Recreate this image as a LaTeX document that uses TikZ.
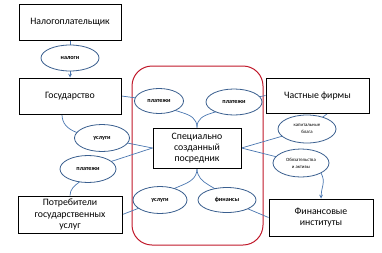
\documentclass[tikz,border=0pt]{standalone}
\usepackage{fontspec}
\setmainfont{Carlito}
\usetikzlibrary{shapes.geometric,backgrounds}
\definecolor{lnk}{HTML}{4A76B0}
\definecolor{ell}{HTML}{3A5F8F}
\definecolor{redc}{HTML}{C0182A}
\begin{document}
\begin{tikzpicture}[x=1pt,y=-1pt,
  box/.style={draw=black,line width=1pt,fill=white,minimum width=#1,align=center,font=\fontsize{9.8}{11.2}\selectfont,inner sep=1pt},
  box/.default=102pt,
  ov/.style={draw=ell,line width=0.8pt,ellipse,fill=white,minimum width=#1,minimum height=26pt,inner sep=0pt,align=center,font=\bfseries\fontsize{6.2}{7}\selectfont},
  ov/.default=56pt,
  ovs/.style={draw=ell,line width=0.8pt,ellipse,fill=white,minimum width=#1,minimum height=28pt,inner sep=0pt,align=center,font=\fontsize{4.8}{7}\selectfont},
  lk/.style={draw=lnk,line width=0.7pt}]
\useasboundingbox (0,0) rectangle (382,252);
\node[box,minimum height=36pt] (nal) at (70,22) {Налогоплательщик};
\node[box,minimum height=36pt] (gos) at (70,96) {Государство};
\node[box,minimum width=103pt,minimum height=35pt] (chf) at (317.5,95.5) {Частные фирмы};
\node[box,minimum width=88pt,minimum height=40pt] (spec) at (197,148) {Специально\\созданный\\посредник};
\node[box,minimum width=104pt,minimum height=37pt] (potr) at (70,214.5) {Потребители\\государственных\\услуг};
\node[box,minimum width=104pt,minimum height=37pt] (fin) at (321,217.5) {Финансовые\\институты};
\node[ov=58pt] (nalogi) at (70,58) {налоги};
\node[ov=49pt,minimum height=25pt] (pl1) at (159,101) {платежи};
\node[ov=56pt] (pl2) at (234,102) {платежи};
\node[ov=55pt,minimum height=27pt] (us1) at (102,138) {услуги};
\node[ov=56pt,minimum height=27pt] (pl3) at (88,169) {платежи};
\node[ov=54pt,minimum height=27pt] (us2) at (160,200) {услуги};
\node[ov=58pt,minimum height=25pt] (fins) at (227,200) {финансы};
\node[ovs=58pt] (kap) at (307,129) {капитальные\\блага};
\node[ovs=56pt] (obz) at (301,163) {Обязательства\\и активы};
\begin{pgfonlayer}{background}
\draw[draw=redc,line width=1pt,rounded corners=20pt] (132,66) rectangle (263,245);
\draw[lk] (nal.south) -- (nalogi.north);
\draw[lk,->,>=stealth] (nalogi.south) -- (gos.north);
\draw[lk] (gos.east) -- (pl1.center);
\draw[lk] (pl1.center) to[out=-50,in=90] (spec.north);
\draw[lk] (pl2.center) to[out=-130,in=90] (spec.north);
\draw[lk] (pl2.center) -- (chf.west);
\draw[lk] (gos.south) ++(-8,0) to[out=-90,in=170] (us1.center);
\draw[lk] (us1.center) -- (spec.west);
\draw[lk] (pl3.center) -- (spec.west);
\draw[lk] (pl3.center) to[out=-90,in=90] (potr.north);
\draw[lk] (potr.east) -- (us2.center);
\draw[lk] (spec.south) to[out=-90,in=60] (us2.center);
\draw[lk] (spec.south) to[out=-90,in=120] (fins.center);
\draw[lk] (fins.center) -- (fin.west);
\draw[lk] (spec.east) -- (kap.center);
\draw[lk] (spec.east) -- (obz.center);
\draw[lk] (chf.south) ++(10,0) -- (kap.center);
\end{pgfonlayer}
\draw[lk,->,>=stealth] (obz.south east) to[out=-60,in=90] (fin.north);
\end{tikzpicture}
\end{document}
